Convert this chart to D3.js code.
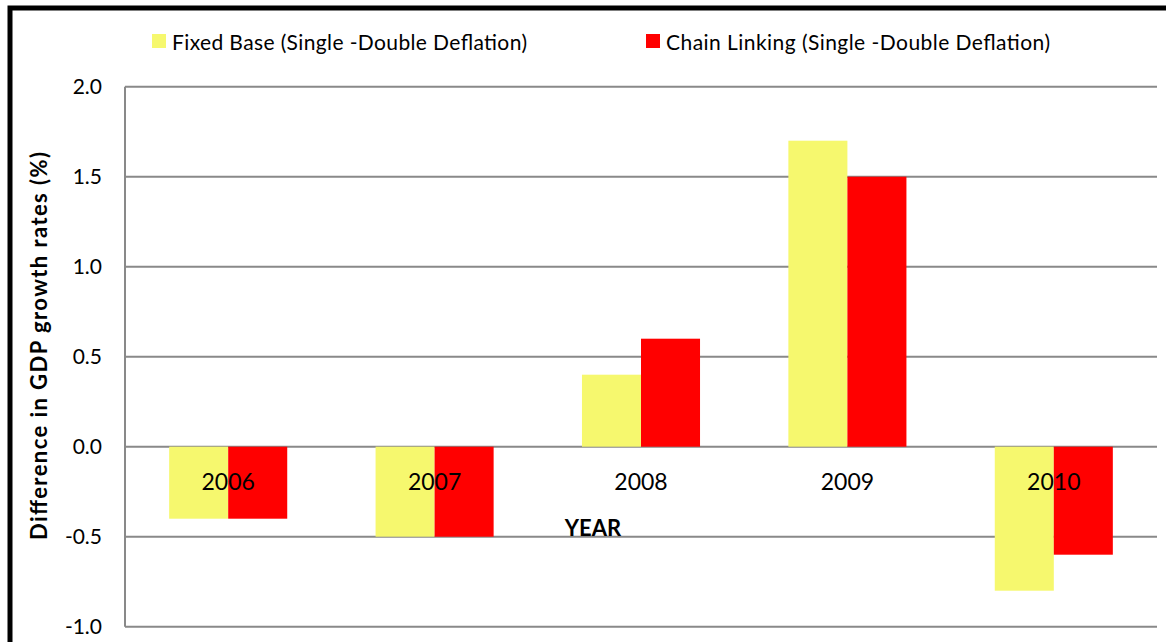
<!DOCTYPE html>
<html>
<head>
<meta charset="utf-8">
<script src="https://cdn.jsdelivr.net/npm/d3@7"></script>
<style>
  html, body { margin: 0; padding: 0; background: #fff; }
  svg { display: block; font-family: Lato, "Open Sans", sans-serif; }
</style>
</head>
<body>
<svg id="chart" width="1166" height="642"></svg>
<script>
const years = ["2006", "2007", "2008", "2009", "2010"];
const fixedBase = [-0.4, -0.5, 0.4, 1.7, -0.8];
const chainLinking = [-0.4, -0.5, 0.6, 1.5, -0.6];
const seriesNames = ["Fixed Base (Single -Double Deflation)", "Chain Linking (Single -Double Deflation)"];
const seriesColors = ["#F6F86E", "#FF0000"];
const yTicks = [-1.0, -0.5, 0.0, 0.5, 1.0, 1.5, 2.0];
const yTitle = "Difference in GDP growth rates (%)";
const xTitle = "YEAR";

const svg = d3.select("#chart");
const W = 1166, H = 642;
const plot = { left: 125, right: 1157, top: 86.7, bottom: 626.7 };

// outer frame (extends beyond the visible area on right/bottom)
svg.append("rect")
  .attr("x", 10).attr("y", 8)
  .attr("width", W + 20).attr("height", H + 20)
  .attr("fill", "none").attr("stroke", "#000").attr("stroke-width", 5);

const y = d3.scaleLinear().domain([-1, 2]).range([plot.bottom, plot.top]);
const x0 = d3.scaleBand().domain(years).range([plot.left, plot.right])
  .paddingInner(0.428).paddingOuter(0.214);
const x1 = d3.scaleBand().domain([0, 1]).range([0, x0.bandwidth()]).padding(0);

// gridlines
svg.append("g").selectAll("line").data(yTicks).join("line")
  .attr("x1", plot.left).attr("x2", plot.right)
  .attr("y1", d => y(d)).attr("y2", d => y(d))
  .attr("stroke", "#898989").attr("stroke-width", 2);

// left axis line
svg.append("line")
  .attr("x1", plot.left).attr("x2", plot.left)
  .attr("y1", plot.top).attr("y2", plot.bottom)
  .attr("stroke", "#898989").attr("stroke-width", 2);

// y tick labels via axis
const fmt = d => d3.format(".1f")(d).replace("\u2212", "-");
const yAxis = d3.axisLeft(y).tickValues(yTicks).tickFormat(fmt).tickSize(0).tickPadding(23);
const yg = svg.append("g").attr("transform", `translate(${plot.left},0)`).call(yAxis);
yg.select(".domain").remove();
yg.selectAll("text").attr("font-size", 21).attr("fill", "#000").attr("font-family", "Lato, sans-serif");

// bars
const data = years.map((yr, i) => ({ yr, vals: [fixedBase[i], chainLinking[i]] }));
const groups = svg.append("g").selectAll("g").data(data).join("g")
  .attr("transform", d => `translate(${x0(d.yr)},0)`);
groups.selectAll("rect").data(d => d.vals.map((v, k) => ({ v, k }))).join("rect")
  .attr("x", d => x1(d.k))
  .attr("width", x1.bandwidth())
  .attr("y", d => y(Math.max(0, d.v)))
  .attr("height", d => Math.abs(y(d.v) - y(0)))
  .attr("fill", d => seriesColors[d.k]);

// category labels (inside plot below zero)
svg.append("g").selectAll("text").data(years).join("text")
  .attr("x", d => x0(d) + x0.bandwidth() / 2)
  .attr("y", y(0) + 34)
  .attr("text-anchor", "middle")
  .attr("dominant-baseline", "central")
  .attr("font-size", 23)
  .attr("fill", "#000")
  .text(d => d);

// x title
svg.append("text")
  .attr("x", 593).attr("y", 527)
  .attr("text-anchor", "middle").attr("dominant-baseline", "central")
  .attr("font-size", 22).attr("font-weight", "bold")
  .text(xTitle);

// y title
svg.append("text")
  .attr("transform", "translate(38,346) rotate(-90)")
  .attr("text-anchor", "middle").attr("dominant-baseline", "central")
  .attr("font-size", 22).attr("font-weight", "bold")
  .attr("textLength", 388).attr("lengthAdjust", "spacing")
  .text(yTitle);

// legend
const legendX = [152, 646];
const legendLen = [355, 384];
const lg = svg.append("g").selectAll("g").data(seriesNames).join("g")
  .attr("transform", (d, i) => `translate(${legendX[i]},34)`);
lg.append("rect").attr("width", 14).attr("height", 14).attr("fill", (d, i) => seriesColors[i]);
lg.append("text").attr("x", 20).attr("y", 7)
  .attr("dominant-baseline", "central")
  .attr("font-size", 21).attr("fill", "#000")
  .attr("textLength", (d, i) => legendLen[i]).attr("lengthAdjust", "spacing")
  .text(d => d);
</script>
</body>
</html>
